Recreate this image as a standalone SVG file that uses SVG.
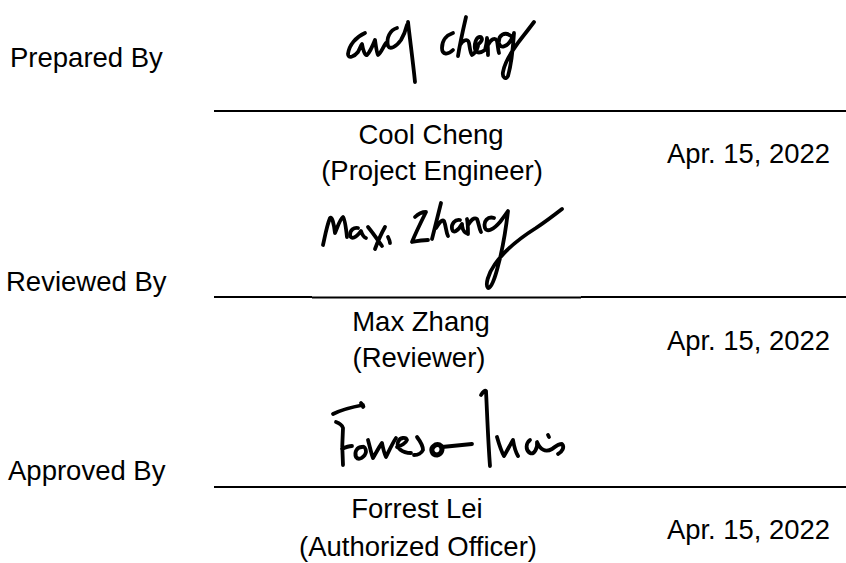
<svg xmlns="http://www.w3.org/2000/svg" width="846" height="563" viewBox="0 0 846 563">
<style>
  text { font-family: "Liberation Sans", Arial, sans-serif; font-size: 27.5px; fill: #000; }
  .c { text-anchor: middle; }
  .date { font-size: 28px; }
  .rule { stroke: #000; stroke-width: 2; fill: none; }
  .sig { stroke: #000; stroke-width: 3.8; fill: none; stroke-linecap: round; stroke-linejoin: round; }
</style>
<rect width="846" height="563" fill="#fff"/>

<g id="prepared">
  <text x="10" y="67">Prepared By</text>
  <g id="sig-cheng" class="sig">
    <path d="M365,33 C356,37 349,45 348,54 C348,59 354,57 358,52 C360,48 361,45 362,44 C363,50 365,56 367,55 C370,52 373,45 375,40 C376,47 377,54 378,55 C381,53 383,47 386,43"/>
    <path d="M397,28 C390,30 386,38 388,46 C390,50 396,47 401,40 C404,35 406,29 407,25 M408,22 C410,40 413,62 415,82"/>
    <path d="M453,33 C447,35 442,40 442,48 C442,55 448,55 453,50"/>
    <path d="M466,17 C463,30 460,43 458,56 M460,45 C463,40 468,38 469,43 C470,48 470,52 472,55 C475,53 477,50 478,46"/>
    <path d="M476,46 C479,44 484,40 481,37 C477,36 474,42 475,49 C476,54 481,53 485,50 C486,46 487,42 487,38 C488,44 488,50 488,55 M488,45 C491,39 495,37 497,41 C498,46 498,50 499,53"/>
    <path d="M511,36 C505,31 498,35 499,43 C500,49 507,47 511,40 C513,37 514,35 514,33 C513,48 512,62 508,76 C506,80 502,78 503,72 C505,60 516,45 524,35 C528,30 531,26 534,22"/>
  </g>
</g>
<g id="reviewed">
  <text x="6" y="291">Reviewed By</text>
  <g id="sig-zhang" class="sig">
    <path d="M323,245 C325,236 327,225 330,218 C332,216 334,224 335,233 C338,226 340,219 343,217 C345,219 346,228 347,237"/>
    <path d="M358,228 C354,227 350,230 350,235 C351,240 356,238 361,231 C362,234 363,237 366,238"/>
    <path d="M368,227 C373,233 377,239 382,246 M385,227 C381,234 378,241 375,249"/>
    <path d="M388,237 C389,239 390,241 390,243"/>
    <path d="M415,217 C418,214 422,212 426,212 C421,222 416,232 412,242 C417,241 422,240 428,240"/>
    <path d="M441,203 C438,215 435,227 432,239 M436,228 C439,223 442,219 444,221 C446,226 446,232 448,236"/>
    <path d="M460,220 C455,219 451,224 452,229 C453,234 458,231 462,224 C462,228 463,231 466,233"/>
    <path d="M467,219 C468,224 468,228 468,234 M468,225 C471,220 474,217 477,219 C479,224 479,228 481,232"/>
    <path d="M494,218 C488,216 483,221 485,228 C487,233 494,229 500,222 C503,218 506,214 508,211 C506,228 503,248 498,266 C495,278 491,289 488,288 C485,285 488,274 495,264 C505,250 520,238 536,228 C545,222 553,216 562,209"/>
  </g>
</g>
<g id="approved">
  <text x="8" y="480">Approved By</text>
  <g id="sig-lei" class="sig">
    <path d="M333,414 C341,410 352,407 363,405 M361,403 C363,405 364,406 363,407"/>
    <path d="M336,422 C339,423 342,425 343,428 C342,440 342,452 343,465 M342,449 C346,447 349,446 352,446"/>
    <path d="M362,447 C357,447 354,452 356,457 C359,461 365,457 366,452 C366,448 364,446 362,447"/>
    <path d="M368,440 C370,447 371,453 373,458 C376,453 379,447 382,443 C383,448 384,453 386,457 C389,451 392,444 396,438"/>
    <path d="M397,447 C401,446 406,443 407,440 C406,437 400,437 398,442 C396,448 402,453 411,453"/>
    <path d="M417,437 C420,441 423,446 423,450 C421,454 417,455 414,455"/>
    <path d="M434,446 C430,449 432,455 437,455 C442,454 443,449 441,446 C439,444 436,444 434,446" stroke-width="5"/>
    <path d="M442,447 C452,446 462,445 472,444"/>
    <path d="M481,395 C483,392 485,390 486,391 C487,410 488,440 490,466"/>
    <path d="M497,437 C499,444 501,451 504,456 C507,451 510,445 513,440 C514,446 515,451 518,456"/>
    <path d="M530,440 C526,443 525,450 530,453 C534,455 538,448 537,442 C540,449 545,453 552,449 C556,446 558,444 562,444 C565,447 562,452 558,454"/>
    <path d="M548,435 L549,437"/>
  </g>
</g>

<g id="connectors">
  <line class="rule" x1="214" y1="111" x2="846" y2="111"/>
  <line class="rule" x1="214" y1="297" x2="312" y2="297"/>
  <line class="rule" x1="312" y1="297.5" x2="581" y2="297.5" stroke-width="1.5"/>
  <line class="rule" x1="581" y1="297" x2="846" y2="297"/>
  <line class="rule" x1="214" y1="487" x2="846" y2="487"/>
</g>

<g id="block-prepared">
  <text class="c" x="431" y="144">Cool Cheng</text>
  <text class="c" x="432" y="180">(Project Engineer)</text>
  <text class="date" x="667" y="163" textLength="163" lengthAdjust="spacingAndGlyphs">Apr. 15, 2022</text>
</g>
<g id="block-reviewed">
  <text class="c" x="421" y="331">Max Zhang</text>
  <text class="c" x="419" y="367">(Reviewer)</text>
  <text class="date" x="667" y="350" textLength="163" lengthAdjust="spacingAndGlyphs">Apr. 15, 2022</text>
</g>
<g id="block-approved">
  <text class="c" x="417" y="518">Forrest Lei</text>
  <text class="c" x="418" y="556">(Authorized Officer)</text>
  <text class="date" x="667" y="539" textLength="163" lengthAdjust="spacingAndGlyphs">Apr. 15, 2022</text>
</g>
</svg>
